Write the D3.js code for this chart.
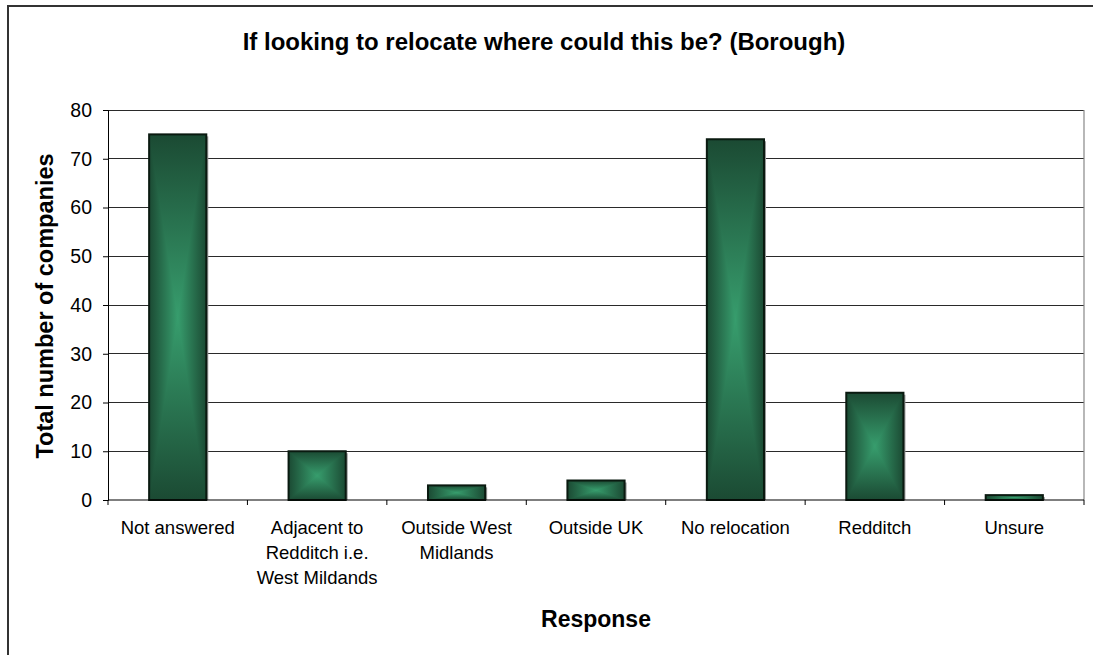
<!DOCTYPE html>
<html><head><meta charset="utf-8">
<script src="https://cdn.jsdelivr.net/npm/d3@7"></script>
<style>body{margin:0;background:#fff}svg{display:block}text{font-family:"Liberation Sans",Arial,sans-serif}</style>
</head><body><svg id="c" width="1093" height="655"></svg>
<script>
const categories = ["Not answered","Adjacent to Redditch i.e. West Mildands","Outside West Midlands","Outside UK","No relocation","Redditch","Unsure"];
const categoryLines = [["Not answered"],["Adjacent to","Redditch i.e.","West Mildands"],["Outside West","Midlands"],["Outside UK"],["No relocation"],["Redditch"],["Unsure"]];
const values = [75,10,3,4,74,22,1];
const yTicks = [0,10,20,30,40,50,60,70,80];
const title = "If looking to relocate where could this be? (Borough)";
const xTitle = "Response";
const yTitle = "Total number of companies";

const svg = d3.select("#c");
const m = {l:108, r:1084, t:110, b:500};
const x = d3.scaleBand().domain(categories).range([m.l, m.r]).paddingInner(0.59).paddingOuter(0.295);
const xc = d3.scaleBand().domain(categories).range([m.l, m.r]);
const y = d3.scaleLinear().domain([0,80]).range([m.b, m.t]);

// outer border
svg.append("rect").attr("x",8).attr("y",6).attr("width",1100).attr("height",700)
  .attr("fill","none").attr("stroke","#333").attr("stroke-width",2);

const defs = svg.append("defs");
const dark = "#1b4a33", light = "#379d6d";
function grad(id,x1,y1,x2,y2){
  const g = defs.append("linearGradient").attr("id",id).attr("x1",x1).attr("y1",y1).attr("x2",x2).attr("y2",y2);
  g.append("stop").attr("offset","0").attr("stop-color",dark);
  g.append("stop").attr("offset","1").attr("stop-color",light);
}
function grad3(id,x1,y1,x2,y2){
  const g = defs.append("linearGradient").attr("id",id).attr("x1",x1).attr("y1",y1).attr("x2",x2).attr("y2",y2);
  g.append("stop").attr("offset","0").attr("stop-color",dark);
  g.append("stop").attr("offset","0.5").attr("stop-color",light);
  g.append("stop").attr("offset","1").attr("stop-color",dark);
}
grad("gT",0,0,0,1); grad("gB",0,1,0,0);
grad3("gH",0,0,1,0);

// gridlines
svg.append("g").selectAll("line").data(yTicks.filter(d=>d>0)).join("line")
  .attr("x1",m.l).attr("x2",m.r).attr("y1",d=>y(d)).attr("y2",d=>y(d))
  .attr("stroke","#2a2a2a").attr("stroke-width",1).attr("shape-rendering","crispEdges");
// right border of plot
svg.append("line").attr("x1",m.r).attr("x2",m.r).attr("y1",m.t).attr("y2",m.b)
  .attr("stroke","#888").attr("stroke-width",1.2);

// y axis
const ya = svg.append("g").attr("transform",`translate(${m.l},0)`)
  .call(d3.axisLeft(y).tickValues(yTicks).tickSize(5).tickPadding(11));
ya.select(".domain").attr("stroke","#000");
ya.selectAll("line").attr("stroke","#000");
ya.selectAll("text").attr("font-size",19.5).attr("fill","#000");

// bars: rectangular "from centre" gradient
const bars = svg.append("g").selectAll("g").data(values).join("g");
bars.each(function(v,i){
  const g = d3.select(this);
  const x0 = x(categories[i]), x1 = x0 + x.bandwidth();
  const y0 = y(v), y1 = y(0);
  const cx = (x0+x1)/2, cy = (y0+y1)/2;
  const P = a=>a.map(p=>p.join(",")).join(" ");
  g.append("rect").attr("x",x0+2).attr("y",y0+2).attr("width",x1-x0).attr("height",y1-y0-2)
    .attr("fill","#9a9a9a");
  g.append("rect").attr("x",x0).attr("y",y0).attr("width",x1-x0).attr("height",y1-y0).attr("fill","url(#gH)");
  g.append("polygon").attr("points",P([[x0,y0],[x1,y0],[cx,cy]])).attr("fill","url(#gT)");
  g.append("polygon").attr("points",P([[x0,y1],[x1,y1],[cx,cy]])).attr("fill","url(#gB)");
  g.append("rect").attr("x",x0).attr("y",y0).attr("width",x1-x0).attr("height",y1-y0)
    .attr("fill","none").attr("stroke","#0a1a10").attr("stroke-width",2);
});

// x axis
const xa = svg.append("g").attr("transform",`translate(0,${m.b})`);
xa.append("line").attr("x1",m.l).attr("x2",m.r).attr("stroke","#000").attr("stroke-width",1.2);
const tickPos = categories.map(c=>xc(c)).concat([m.r]);
xa.selectAll("line.t").data(tickPos).join("line").attr("class","t")
  .attr("x1",d=>d).attr("x2",d=>d).attr("y1",0).attr("y2",5).attr("stroke","#000");
xa.selectAll("text.lab").data(categoryLines).join("text").attr("class","lab")
  .attr("text-anchor","middle").attr("font-size",18.5).attr("fill","#000")
  .attr("x",(d,i)=>xc(categories[i])+xc.bandwidth()/2)
  .each(function(lines){
    d3.select(this).selectAll("tspan").data(lines).join("tspan")
      .attr("x",d3.select(this).attr("x")).attr("y",(d,j)=>34+j*25).text(d=>d);
  });

// titles
svg.append("text").attr("x",544).attr("y",50).attr("text-anchor","middle")
  .attr("font-size",24).attr("font-weight","bold").text(title);
svg.append("text").attr("x",596).attr("y",627).attr("text-anchor","middle")
  .attr("font-size",23).attr("font-weight","bold").text(xTitle);
svg.append("text").attr("transform","translate(53,306) rotate(-90)").attr("text-anchor","middle")
  .attr("font-size",23.5).attr("font-weight","bold").text(yTitle);
</script></body></html>
